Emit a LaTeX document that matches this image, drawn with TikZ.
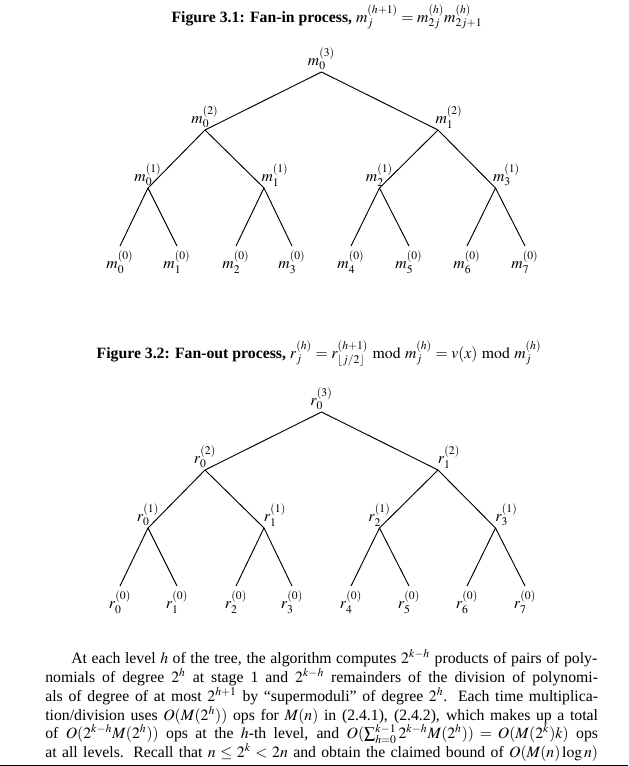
\documentclass[tikz,border=0pt]{standalone}
\usepackage{mathptmx}
\usepackage[no-math]{fontspec}
\setmainfont{Liberation Serif}
\usepackage{tikz}
\usetikzlibrary{positioning}

\begin{document}
\begin{tikzpicture}[x=0.635pt,y=-0.635pt,
    lbl/.style={inner sep=1pt},
    rlbl/.style={inner sep=1pt,xshift=7pt},
    leaflbl/.style={inner sep=3pt},
    branch/.style={line width=0.6pt},
    txtline/.style={anchor=base west,inner sep=0pt}]
  \useasboundingbox (0,0) rectangle (628,766);

  % fan-in tree
  \node[anchor=base] (cap1) at (327,22)
    {\textbf{Figure 3.1: Fan-in process, $m_j^{(h+1)}=m_{2j}^{(h)}m_{2j+1}^{(h)}$}};
  \coordinate (m30) at (321.5,72);
  \coordinate (m20) at (205,130);
  \coordinate (m21) at (438,130);
  \coordinate (m10) at (148,188);
  \coordinate (m11) at (264,188);
  \coordinate (m12) at (379.5,188);
  \coordinate (m13) at (495.5,188);
  \foreach \i/\x in {0/120,1/177,2/236,3/292,4/351,5/409,6/467,7/525}
    \coordinate (m0\i) at (\x,246);

  \node[lbl,above] (m30t) at (m30) {$m_0^{(3)}$};
  \node[lbl,above] (m20t) at (m20) {$m_0^{(2)}$};
  \node[rlbl,above] (m21t) at (m21) {$m_1^{(2)}$};
  \node[lbl,above] (m10t) at (m10) {$m_0^{(1)}$};
  \node[rlbl,above] (m11t) at (m11) {$m_1^{(1)}$};
  \node[lbl,above] (m12t) at (m12) {$m_2^{(1)}$};
  \node[rlbl,above] (m13t) at (m13) {$m_3^{(1)}$};
  \foreach \i in {0,...,7} \node[leaflbl,below] (m0\i t) at (m0\i) {$m_{\i}^{(0)}$};

  \foreach \p/\c in {m30/m20,m30/m21,m20/m10,m20/m11,m21/m12,m21/m13,
      m10/m00,m10/m01,m11/m02,m11/m03,m12/m04,m12/m05,m13/m06,m13/m07}
    \draw[branch] (\p) -- (\c);

  % fan-out tree
  \node[anchor=base] (cap2) at (319,358)
    {\textbf{Figure 3.2: Fan-out process, $r_j^{(h)}=r_{\lfloor j/2\rfloor}^{(h+1)}\bmod m_j^{(h)}=v(x)\bmod m_j^{(h)}$}};
  \coordinate (r30) at (321.5,412);
  \coordinate (r20) at (205,470);
  \coordinate (r21) at (438,470);
  \coordinate (r10) at (148,528);
  \coordinate (r11) at (264,528);
  \coordinate (r12) at (379.5,528);
  \coordinate (r13) at (495.5,528);
  \foreach \i/\x in {0/120,1/177,2/236,3/292,4/351,5/409,6/467,7/525}
    \coordinate (r0\i) at (\x,586);

  \node[lbl,above] (r30t) at (r30) {$r_0^{(3)}$};
  \node[lbl,above] (r20t) at (r20) {$r_0^{(2)}$};
  \node[rlbl,above] (r21t) at (r21) {$r_1^{(2)}$};
  \node[lbl,above] (r10t) at (r10) {$r_0^{(1)}$};
  \node[rlbl,above] (r11t) at (r11) {$r_1^{(1)}$};
  \node[lbl,above] (r12t) at (r12) {$r_2^{(1)}$};
  \node[rlbl,above] (r13t) at (r13) {$r_3^{(1)}$};
  \foreach \i in {0,...,7} \node[leaflbl,below] (r0\i t) at (r0\i) {$r_{\i}^{(0)}$};

  \foreach \p/\c in {r30/r20,r30/r21,r20/r10,r20/r11,r21/r12,r21/r13,
      r10/r00,r10/r01,r11/r02,r11/r03,r12/r04,r12/r05,r13/r06,r13/r07}
    \draw[branch] (\p) -- (\c);

  % text below
  \node[txtline] (ln1) at (71,663) {\makebox[334pt][s]{At each level $h$ of the tree, the algorithm computes $2^{k-h}$ products of pairs of poly-}};
  \node[txtline] (ln2) at (45,682) {\makebox[351pt][s]{nomials of degree $2^h$ at stage 1 and $2^{k-h}$ remainders of the division of polynomi-}};
  \node[txtline] (ln3) at (45,701) {\makebox[351pt][s]{als of degree of at most $2^{h+1}$ by ``supermoduli'' of degree $2^h$. Each time multiplica-}};
  \node[txtline] (ln4) at (45,720) {\makebox[351pt][s]{tion/division uses $O(M(2^h))$ ops for $M(n)$ in (2.4.1), (2.4.2), which makes up a total}};
  \node[txtline] (ln5) at (45,738.5) {\makebox[351pt][s]{of $O(2^{k-h}M(2^h))$ ops at the $h$-th level, and $O(\sum_{h=0}^{k-1}2^{k-h}M(2^h))=O(M(2^k)k)$ ops}};
  \node[txtline] (ln6) at (45,757) {\makebox[351pt][s]{at all levels. Recall that $n\le 2^k<2n$ and obtain the claimed bound of $O(M(n)\log n)$}};
  \draw[line width=1.2pt] (0,765.5) -- (628,765.5);
\end{tikzpicture}
\end{document}
